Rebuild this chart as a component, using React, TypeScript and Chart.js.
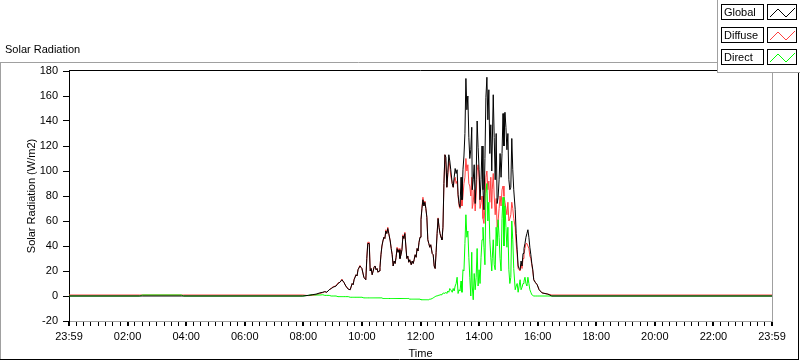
import React, { useEffect, useRef } from "react";
import { Chart, registerables } from "chart.js";

Chart.register(...registerables);

// minutes since the start of the axis (23:59 → 0 ... 23:59 → 1440)
const times = [
  0, 145, 150, 230, 235, 479, 490, 498, 506, 514,
  520, 524, 528, 533, 537, 541, 547, 551, 555, 557,
  559, 561, 563, 567, 572, 576, 580, 582, 584, 588,
  590, 592, 596, 598, 600, 604, 608, 610, 612, 615,
  617, 619, 621, 623, 625, 627, 629, 631, 633, 635,
  637, 639, 641, 643, 645, 647, 649, 651, 653, 655,
  658, 660, 662, 664, 666, 668, 670, 672, 674, 676,
  678, 680, 682, 684, 686, 688, 690, 692, 694, 696,
  698, 701, 703, 705, 707, 709, 711, 713, 715, 717,
  719, 721, 723, 725, 727, 729, 731, 733, 735, 737,
  739, 741, 744, 746, 748, 750, 752, 754, 756, 758,
  760, 762, 764, 766, 768, 770, 772, 774, 776, 778,
  780, 782, 785, 787, 789, 791, 793, 795, 797, 799,
  801, 803, 805, 807, 809, 811, 813, 815, 817, 819,
  821, 823, 825, 826, 828, 830, 832, 834, 836, 838,
  840, 842, 844, 846, 848, 850, 852, 854, 856, 858,
  860, 862, 864, 866, 867, 869, 871, 873, 875, 877,
  879, 881, 883, 885, 887, 889, 891, 893, 895, 897,
  899, 901, 903, 905, 907, 909, 911, 914, 916, 918,
  920, 922, 924, 926, 928, 930, 932, 934, 936, 938,
  940, 942, 944, 946, 948, 950, 952, 955, 959, 963,
  969, 975, 981, 989, 1440,
];

const globalRad = [
  0, 0, 0, 0, 0, 0, 0.5, 1, 1.5, 2.5,
  3, 3.5, 3, 5, 6, 7, 8, 10, 11, 12,
  13, 12, 11, 8, 5.5, 5, 10, 9, 13, 17,
  16, 21, 24, 23, 22, 15, 13, 30, 42, 42,
  20, 22, 17, 20, 23, 24, 21, 22, 19, 20,
  23, 33, 40, 44, 47, 46, 52, 50, 54, 50,
  44, 38, 33, 24, 28, 26, 31, 38, 35, 37,
  30, 33, 37, 48, 46, 50, 40, 30, 32, 27,
  29, 25, 28, 26, 29, 33, 31, 38, 36, 43,
  47, 61, 70, 77, 72, 75, 70, 63, 45, 42,
  39, 41, 34, 33, 24, 22, 35, 50, 62, 55,
  50, 47, 45, 55, 90, 113, 111, 87, 99, 113,
  108, 101, 90, 87, 95, 102, 98, 101, 81, 74,
  71, 95, 77, 101, 112, 130, 174, 149, 160, 127,
  110, 117, 135, 85, 93, 105, 74, 93, 140, 119,
  101, 77, 93, 120, 85, 69, 110, 159, 175, 141,
  165, 114, 137, 100, 120, 161, 127, 93, 130, 74,
  79, 93, 114, 95, 114, 146, 120, 147, 135, 117,
  130, 93, 85, 87, 126, 101, 85, 69, 50, 37,
  24, 22, 21, 28, 24, 34, 38, 42, 47, 50,
  53, 47, 39, 33, 26, 21, 13, 11, 9, 5,
  2.5, 2, 1.5, 0, 0,
];

const diffuseRad = [
  0.8, 0.8, 0.8, 0.8, 0.8, 0.8, 0.3, 0.5, 1, 2,
  2.8, 3.5, 3, 5, 6, 7.5, 8, 10.5, 11, 12,
  13.5, 12, 11, 8, 5.5, 5, 10, 9, 13.5, 17,
  16, 21, 24.5, 23, 22, 15, 13, 30, 43, 43,
  20, 22, 17, 20, 23.5, 24, 21, 22, 19, 20,
  23, 33, 40, 44, 47, 46, 53, 50, 55, 50,
  44, 38, 33, 24, 28, 26, 31, 39, 35, 38,
  30, 33, 37, 49, 46, 51, 40, 30, 32, 27,
  29, 25, 28, 26, 29, 33, 31, 38, 36, 43,
  47, 61, 71, 79, 72, 76, 70, 63, 45, 42,
  39, 41, 34, 33, 24, 22, 35, 50, 62.5, 55,
  50, 47, 45, 55, 90, 113, 105, 87, 97, 108,
  104, 96, 90, 87, 92, 95, 90, 92, 80, 72,
  70, 78, 72, 80, 90, 95, 110, 100, 105, 90,
  88, 80, 95, 70, 75, 85, 68, 80, 100, 105,
  95, 70, 75, 80, 62, 58, 72, 95, 100, 85,
  92, 75, 95, 70, 85, 98, 80, 65, 78, 55,
  60, 70, 80, 72, 85, 88, 80, 75, 70, 65,
  75, 60, 62, 65, 75, 70, 62, 55, 42, 33,
  22, 21, 20, 25, 22, 30, 34, 38, 42, 42,
  40, 38, 32, 30, 25, 20, 13, 11, 9, 5,
  2.5, 2, 1.5, 0.8, 0.8,
];

const directRad = [
  0, 0, 0.8, 0.8, 0, 0, 0.5, 1, 0.8, 0.8,
  1, 0.5, 0.5, 0.5, 0, 0, 0, -0.5, -0.5, -0.5,
  -0.5, -0.5, -0.5, -0.5, -0.5, -1, -1, -1, -1, -1,
  -1, -1, -1, -1, -1, -1.5, -1.5, -1.5, -1.5, -1.5,
  -1.5, -1.5, -1.5, -1.5, -1.5, -1.5, -1.5, -1.5, -1.5, -1.5,
  -1.5, -1.5, -1.5, -2, -2, -2, -2, -2, -2, -2,
  -2, -2, -2, -2, -2, -2, -2, -2, -2, -2,
  -2, -2, -2, -2, -2, -2, -2, -2, -2, -2,
  -2.5, -2.5, -2.5, -2.5, -2.5, -2.5, -2.5, -2.5, -2.5, -2.5,
  -2.5, -3, -3, -3, -3, -3, -3, -3, -3, -3,
  -2.5, -2.5, -2, -1.5, -1, -0.5, 0, 0, 0.5, 0.5,
  1, 1, 1.5, 2, 2.5, 2, 3, 2, 4, 3,
  6, 5, 3, 6, 4, 8, 10, 15, 2, 5,
  4, 12, 3, 21, 20, 42, 65, 47, 52, 31,
  15, 0, 35, 8, -3, 18, 5, 15, 38, 8,
  21, 10, 31, 45, 55, 39, 25, 82, 90, 60,
  75, 45, 31, 20, 30, 45, 25, 21, 55, 40,
  61, 47, 30, 20, 62, 79, 40, 72, 55, 39,
  55, 21, 10, 15, 60, 45, 22, 5, 8, 10,
  3, 8, 13, 5, 7, 10, 12, 15, 10, 8,
  15, 10, 5, 3, 1, 0.5, 0, 0, 0, 0,
  0, 0, 0, 0, 0,
];

const seriesNames = ["Global", "Diffuse", "Direct"];
const seriesColors = ["#000000", "#ff4040", "#00ff00"];

const yMin = -20;
const yMax = 180;
const yStep = 20;

const xLabelMinutes = [0, 120, 240, 360, 480, 600, 720, 840, 960, 1080, 1200, 1320, 1440];
const xTickLabels = [
  "23:59", "02:00", "04:00", "06:00", "08:00", "10:00", "12:00",
  "14:00", "16:00", "18:00", "20:00", "22:00", "23:59",
];

const chartTitle = "Solar Radiation";
const yTitle = "Solar Radiation (W/m2)";
const xTitle = "Time";

const FONT = "'Liberation Sans', Arial, sans-serif";

const framePlugin = {
  id: "labviewFrame",
  beforeDraw(chart: any) {
    const ctx = chart.ctx;
    ctx.save();
    ctx.fillStyle = "#ffffff";
    ctx.fillRect(0, 0, chart.width, chart.height);
    ctx.restore();
  },
  afterDraw(chart: any) {
    const ctx = chart.ctx;
    const a = chart.chartArea;
    ctx.save();
    ctx.lineWidth = 1;
    // outer frame
    ctx.strokeStyle = "#a0a0a0";
    ctx.beginPath();
    ctx.moveTo(0, 62.5);
    ctx.lineTo(717, 62.5);
    ctx.moveTo(0.5, 62);
    ctx.lineTo(0.5, 359);
    ctx.stroke();
    ctx.strokeStyle = "#000000";
    ctx.beginPath();
    ctx.moveTo(0, 359.5);
    ctx.lineTo(799, 359.5);
    ctx.moveTo(798.5, 72);
    ctx.lineTo(798.5, 360);
    ctx.stroke();
    // plot frame
    ctx.strokeStyle = "#000000";
    ctx.beginPath();
    ctx.moveTo(a.left, Math.round(a.top) - 0.5);
    ctx.lineTo(a.right, Math.round(a.top) - 0.5);
    ctx.stroke();
    ctx.strokeStyle = "#a0a0a0";
    ctx.beginPath();
    ctx.moveTo(Math.round(a.right) + 0.5, a.top);
    ctx.lineTo(Math.round(a.right) + 0.5, a.bottom);
    ctx.stroke();
    // title
    ctx.fillStyle = "#000000";
    ctx.font = `11px ${FONT}`;
    ctx.textAlign = "left";
    ctx.textBaseline = "middle";
    ctx.fillText(chartTitle, 5, 50);
    // legend panel
    ctx.fillStyle = "#ffffff";
    ctx.fillRect(717, 0, 83, 72);
    ctx.strokeStyle = "#a0a0a0";
    ctx.beginPath();
    ctx.moveTo(717.5, 0);
    ctx.lineTo(717.5, 72);
    ctx.moveTo(717, 72.5);
    ctx.lineTo(800, 72.5);
    ctx.stroke();
    seriesNames.forEach((name, i) => {
      const yy = Math.round(4 + i * 22.5);
      ctx.strokeStyle = "#000000";
      ctx.lineWidth = 1;
      ctx.strokeRect(721.5, yy + 0.5, 42, 15);
      ctx.strokeRect(767.5, yy + 0.5, 29, 15);
      ctx.fillStyle = "#000000";
      ctx.font = `11px ${FONT}`;
      ctx.textAlign = "left";
      ctx.textBaseline = "middle";
      ctx.fillText(name, 724, yy + 8.5);
      ctx.strokeStyle = seriesColors[i];
      ctx.beginPath();
      ctx.moveTo(770, yy + 13);
      ctx.lineTo(778, yy + 5);
      ctx.lineTo(786, yy + 13);
      ctx.lineTo(795, yy + 4);
      ctx.stroke();
    });
    ctx.restore();
  },
};

export default function App() {
  const canvasRef = useRef<HTMLCanvasElement | null>(null);

  useEffect(() => {
    const canvas = canvasRef.current;
    if (!canvas) return;
    const series = [globalRad, diffuseRad, directRad];
    const drawOrder = [0, 2, 1];
    const chart = new Chart(canvas, {
      type: "line",
      data: {
        datasets: seriesNames.map((name, s) => ({
          label: name,
          data: times.map((t, i) => ({ x: t, y: series[s][i] })),
          borderColor: seriesColors[s],
          backgroundColor: seriesColors[s],
          borderWidth: 1,
          pointRadius: 0,
          tension: 0,
          fill: false,
          order: drawOrder[s],
        })),
      },
      options: {
        responsive: false,
        animation: false,
        events: [],
        layout: { padding: { left: 0, right: 28, top: 71, bottom: 0 } },
        plugins: {
          legend: { display: false },
          tooltip: { enabled: false },
          title: { display: false },
        },
        scales: {
          x: {
            type: "linear",
            min: 0,
            max: 1440,
            afterFit: (scale: any) => {
              scale.height = 40;
            },
            border: { display: true, color: "#a0a0a0", width: 1 },
            grid: {
              drawOnChartArea: false,
              drawTicks: true,
              tickLength: 5,
              color: "#000000",
              lineWidth: (c: any) => (c.tick && c.tick.value % 120 === 0 ? 2 : 1),
            },
            ticks: {
              stepSize: 15,
              autoSkip: false,
              maxTicksLimit: 200,
              maxRotation: 0,
              minRotation: 0,
              padding: 4,
              color: "#000000",
              font: { family: FONT, size: 11 },
              callback: (v: any) => {
                const idx = xLabelMinutes.indexOf(Number(v));
                return idx >= 0 ? xTickLabels[idx] : "";
              },
            },
            title: {
              display: true,
              text: xTitle,
              color: "#000000",
              font: { family: FONT, size: 11 },
              padding: { top: 0, bottom: 0 },
            },
          },
          y: {
            type: "linear",
            min: yMin,
            max: yMax,
            afterFit: (scale: any) => {
              scale.width = 69;
            },
            border: { display: true, color: "#000000", width: 1 },
            grid: {
              drawOnChartArea: false,
              drawTicks: true,
              tickLength: 6,
              color: "#000000",
            },
            ticks: {
              stepSize: yStep,
              padding: 5,
              color: "#000000",
              font: { family: FONT, size: 11 },
            },
            title: {
              display: true,
              text: yTitle,
              color: "#000000",
              font: { family: FONT, size: 11 },
              padding: { top: 25, bottom: 0 },
            },
          },
        },
      },
      plugins: [framePlugin],
    });
    return () => chart.destroy();
  }, []);

  return (
    <div style={{ position: "absolute", left: 0, top: 0, width: 800, height: 361, background: "#fff" }}>
      <canvas ref={canvasRef} width={800} height={361} style={{ display: "block" }} />
    </div>
  );
}
